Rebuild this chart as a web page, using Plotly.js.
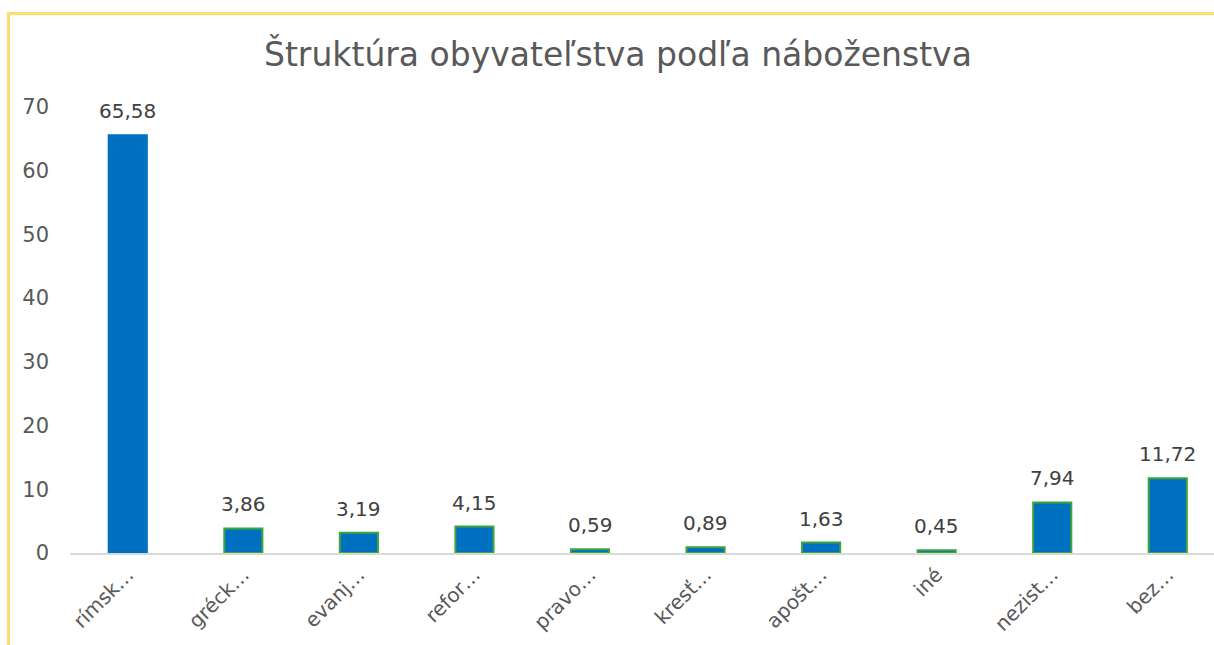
<!DOCTYPE html>
<html>
<head>
<meta charset="utf-8">
<script src="https://cdn.plot.ly/plotly-3.0.1.min.js"></script>
<style>
html, body { margin: 0; padding: 0; background: #ffffff; }
#wrap { position: relative; width: 1214px; height: 645px; }
#chart { width: 1214px; height: 645px; }
#frame { position: absolute; left: 7px; top: 12px; right: 0; bottom: 0; border-top: 3px solid #FCDD6E; border-left: 3px solid #FCDD6E; pointer-events: none; }
</style>
</head>
<body>
<div id="wrap">
<div id="chart"></div>
<div id="frame"></div>
</div>
<script>
const categories = ["rímsk…", "gréck…", "evanj…", "refor…", "pravo…", "kresť…", "apošt…", "iné", "nezist…", "bez…"];
const values = [65.58, 3.86, 3.19, 4.15, 0.59, 0.89, 1.63, 0.45, 7.94, 11.72];
const valueLabels = ["65,58", "3,86", "3,19", "4,15", "0,59", "0,89", "1,63", "0,45", "7,94", "11,72"];
const yTicks = [0, 10, 20, 30, 40, 50, 60, 70];

const FONT = "DejaVu Sans, sans-serif";
const lineColors = categories.map((c, i) => i === 0 ? "#0070C0" : "#3DA53A");

const trace = {
  type: "bar",
  x: categories,
  y: values,
  width: 0.33,
  marker: { color: "#0070C0", line: { color: lineColors, width: 2 } },
  hoverinfo: "none"
};

const annotations = categories.map((c, i) => ({
  x: c, y: values[i], xref: "x", yref: "y",
  text: valueLabels[i], showarrow: false,
  yanchor: "bottom", yshift: 10,
  font: { family: FONT, size: 20, color: "#404040" }
}));

const layout = {
  width: 1214, height: 645,
  margin: { l: 70, r: 0, t: 107, b: 92 },
  paper_bgcolor: "#ffffff", plot_bgcolor: "#ffffff",
  title: { text: "Štruktúra obyvateľstva podľa náboženstva", x: 0.509, xanchor: "center", y: 0.915, yanchor: "middle",
           font: { family: FONT, size: 33, color: "#595959" } },
  showlegend: false,
  bargap: 0.67,
  xaxis: {
    type: "category", range: [-0.5, 9.4],
    showline: true, linecolor: "#D9D9D9", linewidth: 2,
    tickangle: -45, ticks: "", showgrid: false, zeroline: false,
    tickfont: { family: FONT, size: 20, color: "#595959" }
  },
  yaxis: {
    range: [0, 70], tickvals: yTicks, ticktext: yTicks.map(String),
    showline: false, showgrid: false, zeroline: false, ticks: "",
    ticklabelstandoff: 20,
    tickfont: { family: FONT, size: 21, color: "#595959" }
  },
  annotations: annotations
};

Plotly.newPlot("chart", [trace], layout, { displayModeBar: false, staticPlot: true });
</script>
</body>
</html>
